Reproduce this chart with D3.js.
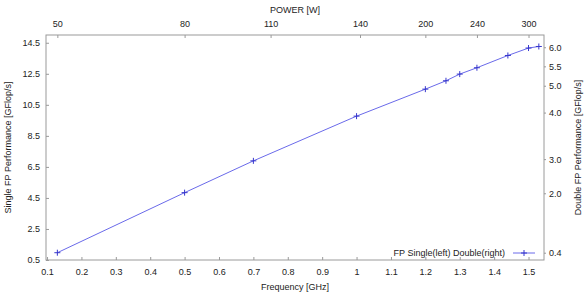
<!DOCTYPE html>
<html>
<head>
<meta charset="utf-8">
<script src="https://cdn.jsdelivr.net/npm/d3@7"></script>
<style>
  html, body { margin: 0; padding: 0; background: #fff; }
  svg text { font-family: "Liberation Sans", Arial, sans-serif; fill: #222; }
</style>
</head>
<body>
<div id="chart"></div>
<script>
// measured points: frequency [GHz] vs single precision performance [GFlop/s]
var frequency = [0.13, 0.5, 0.7, 1.0, 1.2, 1.26, 1.3, 1.35, 1.44, 1.5, 1.53];
var singlePerf = [0.97, 4.84, 6.89, 9.77, 11.51, 12.05, 12.48, 12.89, 13.68, 14.16, 14.26];

var singleTicks = [0.5, 2.5, 4.5, 6.5, 8.5, 10.5, 12.5, 14.5];
var freqTicks = [0.1, 0.2, 0.3, 0.4, 0.5, 0.6, 0.7, 0.8, 0.9, 1, 1.1, 1.2, 1.3, 1.4, 1.5];

// top axis: power labels, placed at the frequency they belong to
var powerTicks = [50, 80, 110, 140, 200, 240, 300];
var powerAtFreq = [0.13, 0.5, 0.75, 1.01, 1.2, 1.35, 1.5];

// right axis: double precision labels, placed at the matching single value
var doubleTicks = [0.4, 2.0, 3.0, 4.0, 5.0, 5.5, 6.0];
var doubleAtSingle = [0.97, 4.8, 7.0, 10.0, 11.73, 12.98, 14.21];

var width = 587, height = 293;
var mLeft = 46, mRight = 544, mTop = 35, mBottom = 260;
var fs = 9;
var lineColor = "#6a6aea", markColor = "#3636cc", axisColor = "#9a9a9a";

var svg = d3.select("#chart").append("svg")
  .attr("width", width)
  .attr("height", height);

var x = d3.scaleLinear().domain([0.097, 1.545]).range([mLeft, mRight]);
var y = d3.scaleLinear().domain([0.5, 15.0]).range([mBottom, mTop]);

// power and double scales go through the main scales
var xPower = d3.scaleLinear().domain(powerTicks).range(powerAtFreq.map(v => x(v)));
var yDouble = d3.scaleLinear().domain(doubleTicks).range(doubleAtSingle.map(v => y(v)));

function styleAxis(g) {
  g.select(".domain").remove();
  g.selectAll(".tick line").attr("stroke", axisColor);
  g.selectAll(".tick text").attr("fill", "#222").style("font-size", fs + "px")
    .style("font-family", "'Liberation Sans', Arial, sans-serif");
}

// bottom axis, ticks pointing in
svg.append("g")
  .attr("transform", "translate(0," + mBottom + ")")
  .call(d3.axisBottom(x).tickValues(freqTicks).tickSize(-3).tickPadding(9)
    .tickFormat(d3.format("")))
  .call(styleAxis);

// top axis, power
svg.append("g")
  .attr("transform", "translate(0," + mTop + ")")
  .call(d3.axisTop(xPower).tickValues(powerTicks).tickSize(-3).tickPadding(8)
    .tickFormat(d3.format("d")))
  .call(styleAxis);

// left axis
svg.append("g")
  .attr("transform", "translate(" + mLeft + ",0)")
  .call(d3.axisLeft(y).tickValues(singleTicks).tickSize(-3).tickPadding(6)
    .tickFormat(d3.format(".1f")))
  .call(styleAxis);

// right axis, double
svg.append("g")
  .attr("transform", "translate(" + mRight + ",0)")
  .call(d3.axisRight(yDouble).tickValues(doubleTicks).tickSize(2).tickPadding(3)
    .tickFormat(d3.format(".1f")))
  .call(styleAxis);

// frame
svg.append("rect")
  .attr("x", mLeft).attr("y", mTop)
  .attr("width", mRight - mLeft).attr("height", mBottom - mTop)
  .attr("fill", "none").attr("stroke", axisColor).attr("stroke-width", 1);

// axis titles
svg.append("text").attr("x", (mLeft + mRight) / 2).attr("y", 290)
  .attr("text-anchor", "middle").style("font-size", fs + "px")
  .text("Frequency [GHz]");
svg.append("text").attr("x", (mLeft + mRight) / 2).attr("y", 13)
  .attr("text-anchor", "middle").style("font-size", fs + "px")
  .text("POWER [W]");
svg.append("text")
  .attr("transform", "translate(11," + (mTop + mBottom) / 2 + ") rotate(-90)")
  .attr("text-anchor", "middle").style("font-size", fs + "px")
  .text("Single FP Performance [GFlop/s]");
svg.append("text")
  .attr("transform", "translate(581," + (mTop + mBottom) / 2 + ") rotate(-90)")
  .attr("text-anchor", "middle").style("font-size", fs + "px")
  .text("Double FP Performance [GFlop/s]");

var pts = frequency.map((f, i) => [f, singlePerf[i]]);

svg.append("path")
  .datum(pts)
  .attr("fill", "none")
  .attr("stroke", lineColor)
  .attr("stroke-width", 1)
  .attr("d", d3.line().x(d => x(d[0])).y(d => y(d[1])));

function plus(sel) {
  sel.attr("d", "M-3,0H3M0,-3V3")
    .attr("stroke", markColor)
    .attr("stroke-width", 1)
    .attr("fill", "none");
}

svg.selectAll("path.mark")
  .data(pts)
  .enter()
  .append("path")
  .attr("class", "mark")
  .attr("transform", d => "translate(" + x(d[0]) + "," + y(d[1]) + ")")
  .call(plus);

// legend
var ly = 253;
svg.append("text").attr("x", 505).attr("y", ly + 3)
  .attr("text-anchor", "end").style("font-size", fs + "px")
  .text("FP Single(left) Double(right)");
svg.append("line").attr("x1", 513).attr("x2", 535).attr("y1", ly).attr("y2", ly)
  .attr("stroke", lineColor);
svg.append("path").attr("transform", "translate(524," + ly + ")").call(plus);
</script>
</body>
</html>
